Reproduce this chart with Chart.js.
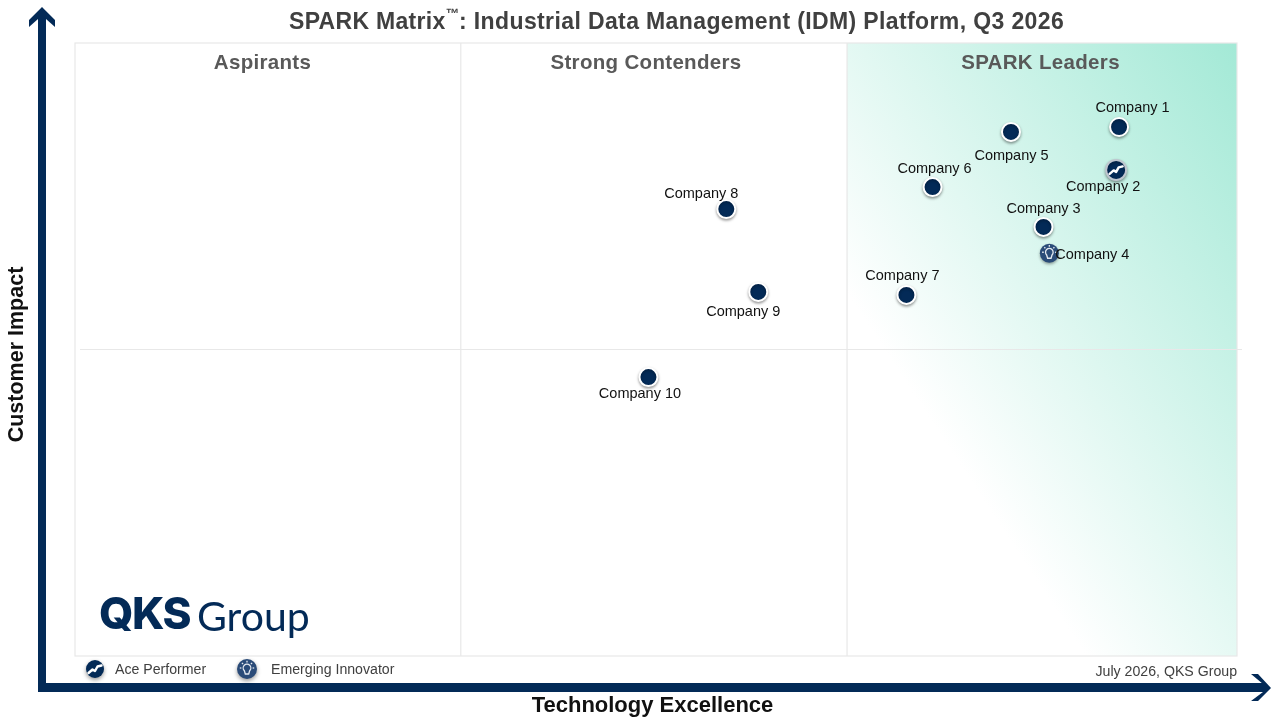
<!DOCTYPE html>
<html>
<head>
<meta charset="utf-8">
<title>SPARK Matrix</title>
<script src="https://cdn.jsdelivr.net/npm/chart.js@4"></script>
<style>
  html, body { margin: 0; padding: 0; background: #fff; }
  #matrix { display: block; }
</style>
</head>
<body>
<canvas id="matrix" width="1280" height="720"></canvas>
<script>
const companies = ['Company 1', 'Company 2', 'Company 3', 'Company 4', 'Company 5', 'Company 6', 'Company 7', 'Company 8', 'Company 9', 'Company 10'];
const techExcellence = [89.85, 89.6, 83.35, 83.85, 80.55, 73.8, 71.55, 56.05, 58.8, 49.35];
const customerImpact = [86.3, 79.3, 70.0, 65.7, 85.5, 76.5, 58.9, 72.9, 59.4, 45.5];
const awards = ['', 'ace', '', 'innovator', '', '', '', '', '', ''];
const quadrants = ['Aspirants', 'Strong Contenders', 'SPARK Leaders'];
const legendItems = ['Ace Performer', 'Emerging Innovator'];
const quadrantEdges = [33.2, 66.44];

// label offset from its point, in px
const labelDx = [13.5, -13, 0, 43, 0.5, 2, -4, -25, -15, -8.5];
const labelDy = [-20, 16, -19, 1, 23, -19, -20, -16, 19, 16];
const quadrantCx = [262.5, 646, 1040.5];

const navy = '#032a57';
const innovatorBlue = '#2a4b78';
const sans = '"Liberation Sans", Arial, sans-serif';

function text(ctx, str, x, y, font, color, align, spacing) {
  ctx.font = font;
  ctx.fillStyle = color;
  ctx.textAlign = align || 'center';
  ctx.textBaseline = 'middle';
  ctx.letterSpacing = spacing || '0px';
  ctx.fillText(str, x, y);
  const w = ctx.measureText(str).width;
  ctx.letterSpacing = '0px';
  return w;
}

function poly(ctx, pts) {
  ctx.beginPath();
  pts.forEach((p, i) => i ? ctx.lineTo(p[0], p[1]) : ctx.moveTo(p[0], p[1]));
  ctx.closePath();
  ctx.fill();
}

function aceGlyph(ctx, x, y) {
  ctx.save();
  ctx.strokeStyle = '#fff';
  ctx.lineWidth = 2.4;
  ctx.lineJoin = 'round';
  ctx.lineCap = 'round';
  ctx.beginPath();
  ctx.moveTo(x - 6.5, y + 4);
  ctx.lineTo(x - 2.5, y + 0.5);
  ctx.lineTo(x, y + 2);
  ctx.lineTo(x + 2.5, y - 2.5);
  ctx.lineTo(x + 6.5, y - 3.5);
  ctx.stroke();
  ctx.restore();
}

function bulbGlyph(ctx, x, y) {
  ctx.save();
  ctx.strokeStyle = '#e4e9f0';
  ctx.lineWidth = 1.3;
  ctx.beginPath();
  ctx.arc(x, y - 1, 3.8, 0.75 * Math.PI, 0.25 * Math.PI);
  ctx.lineTo(x + 1.7, y + 5);
  ctx.lineTo(x - 1.7, y + 5);
  ctx.closePath();
  ctx.stroke();
  for (let a = 0; a < 5; a++) {
    const ang = Math.PI * (1 + a / 4);
    ctx.beginPath();
    ctx.moveTo(x + Math.cos(ang) * 5.6, y - 1 + Math.sin(ang) * 5.6);
    ctx.lineTo(x + Math.cos(ang) * 7.2, y - 1 + Math.sin(ang) * 7.2);
    ctx.stroke();
  }
  ctx.restore();
}

function legendDot(ctx, x, y, r, color, glyph) {
  ctx.save();
  ctx.shadowColor = 'rgba(0,0,0,0.4)';
  ctx.shadowBlur = 4;
  ctx.shadowOffsetY = 2;
  ctx.fillStyle = color;
  ctx.beginPath();
  ctx.arc(x, y, r, 0, Math.PI * 2);
  ctx.fill();
  ctx.restore();
  glyph(ctx, x, y);
}

// leaders shading and frame go under the points
const backdrop = {
  id: 'backdrop',
  beforeDatasetsDraw(chart) {
    const { ctx, chartArea: a, scales: { x, y } } = chart;
    const left = x.getPixelForValue(quadrantEdges[1]);
    ctx.save();
    const g = ctx.createLinearGradient(850, 298, a.right, a.top);
    g.addColorStop(0, '#ffffff');
    g.addColorStop(1, '#a3e9d6');
    ctx.fillStyle = g;
    ctx.fillRect(left, a.top, a.right - left, a.bottom - a.top);

    ctx.strokeStyle = '#e8e8e8';
    ctx.lineWidth = 1.2;
    ctx.strokeRect(a.left, a.top, a.right - a.left, a.bottom - a.top);
    quadrantEdges.forEach(v => {
      ctx.beginPath();
      ctx.moveTo(x.getPixelForValue(v), a.top);
      ctx.lineTo(x.getPixelForValue(v), a.bottom);
      ctx.stroke();
    });
    const mid = y.getPixelForValue(50);
    ctx.beginPath();
    ctx.moveTo(a.left + 5, mid);
    ctx.lineTo(a.right + 5, mid);
    ctx.stroke();

    quadrants.forEach((q, i) => {
      text(ctx, q, quadrantCx[i], 63, 'bold 20.5px ' + sans, '#595959', 'center', '0.32px');
    });

    // logo
    text(ctx, 'QKS', 99, 616, '800 44px Inter', navy, 'left', '-1.5px');
    text(ctx, 'Group', 197, 618, '400 41px Lato', navy, 'left');
    ctx.restore();
  },
  beforeDatasetDraw(chart) {
    chart.ctx.save();
    chart.ctx.shadowColor = 'rgba(0,0,0,0.35)';
    chart.ctx.shadowBlur = 3;
    chart.ctx.shadowOffsetY = 1.5;
  },
  afterDatasetDraw(chart) {
    chart.ctx.restore();
  },
  afterDatasetsDraw(chart) {
    const { ctx } = chart;
    const pts = chart.getDatasetMeta(0).data;
    pts.forEach((p, i) => {
      if (awards[i] === 'ace') aceGlyph(ctx, p.x, p.y);
      if (awards[i] === 'innovator') bulbGlyph(ctx, p.x, p.y);
    });
    pts.forEach((p, i) => {
      text(ctx, companies[i], p.x + labelDx[i], p.y + labelDy[i] + 1, '14.5px ' + sans, '#111');
    });
  },
  afterDraw(chart) {
    const { ctx } = chart;
    ctx.save();
    // axis arrows
    ctx.fillStyle = navy;
    ctx.fillRect(38, 16, 8, 675);
    ctx.fillRect(38, 683, 1226, 9);
    poly(ctx, [[42, 7], [55, 20], [55, 27], [46, 19], [38, 19], [29, 27], [29, 20]]);
    poly(ctx, [[1271, 688], [1258, 674], [1251, 674], [1263, 684], [1263, 692], [1251, 701], [1258, 701]]);

    // title is set in three runs so the trademark sign can sit raised and small
    let tx = 289;
    const titleFont = 'bold 23px ' + sans;
    tx += text(ctx, 'SPARK Matrix', tx, 22.5, titleFont, '#404040', 'left', '0.3px');
    tx += text(ctx, '\u2122', tx, 14.5, 'bold 13.5px ' + sans, '#404040', 'left');
    text(ctx, ': Industrial Data Management (IDM) Platform, Q3 2026', tx, 22.5, titleFont, '#404040', 'left', '0.38px');

    text(ctx, 'Technology Excellence', 652.5, 705.5, 'bold 22px ' + sans, '#111');
    ctx.save();
    ctx.translate(17, 354.5);
    ctx.rotate(-Math.PI / 2);
    text(ctx, 'Customer Impact', 0, 0, 'bold 21.5px ' + sans, '#111');
    ctx.restore();

    legendDot(ctx, 95, 669, 9, navy, aceGlyph);
    text(ctx, legendItems[0], 115, 670, '14.15px ' + sans, '#404040', 'left');
    legendDot(ctx, 247, 669, 10, innovatorBlue, bulbGlyph);
    text(ctx, legendItems[1], 271, 670, '14.15px ' + sans, '#404040', 'left');
    text(ctx, 'July 2026, QKS Group', 1237, 672, '14.15px ' + sans, '#404040', 'right');
    ctx.restore();
  }
};

new Chart(document.getElementById('matrix'), {
  type: 'scatter',
  data: {
    datasets: [{
      label: 'Vendors',
      data: companies.map((c, i) => ({ x: techExcellence[i], y: customerImpact[i] })),
      pointRadius: awards.map(a => a === 'ace' ? 10 : a === 'innovator' ? 9.5 : 9),
      pointHoverRadius: 9,
      pointBorderWidth: awards.map(a => a === '' ? 2 : a === 'ace' ? 2 : 0),
      pointBackgroundColor: awards.map(a => a === 'innovator' ? innovatorBlue : navy),
      pointBorderColor: awards.map(a => a === 'ace' ? '#bfc6cf' : a === 'innovator' ? innovatorBlue : '#fff')
    }]
  },
  options: {
    responsive: false,
    animation: false,
    layout: { padding: { left: 75, right: 43, top: 43, bottom: 64 } },
    plugins: { legend: { display: false }, tooltip: { enabled: false } },
    scales: {
      x: { display: false, min: 0, max: 100 },
      y: { display: false, min: 0, max: 100 }
    }
  },
  plugins: [backdrop]
});
</script>
</body>
</html>
